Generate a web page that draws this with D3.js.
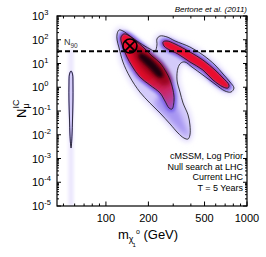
<!DOCTYPE html>
<html>
<head>
<meta charset="utf-8">
<script src="https://cdn.jsdelivr.net/npm/d3@7"></script>
<style>
  body { margin: 0; background: #fff; }
  svg { display: block; font-family: "Liberation Sans", Arial, Helvetica, sans-serif; }
</style>
</head>
<body>
<div id="figure"></div>
<script>
// axis ticks
const xTicks = [100, 200, 500, 1000];
const xMinor = [50, 60, 70, 80, 90, 300, 400, 600, 700, 800, 900];
const yExponents = [-5, -4, -3, -2, -1, 0, 1, 2, 3];

// IceCube 90% line and best fit point
const n90 = 33;
const bestFit = [148, 54.6];

// contours, [neutralino mass GeV, N_mu]
const outerContour = [
    [120, 175], [124, 257], [132, 234], [148, 144], [174, 73], [205, 41], [223, 33.6],
    [230, 60], [230, 108], [242, 144], [271, 131], [309, 88.6], [394, 49.5], [487, 22.8],
    [593, 8.65], [676, 3.61], [757, 1.66], [808, 0.93], [770, 0.63], [698, 0.695],
    [593, 1.37], [487, 3.28], [407, 7.13], [363, 11.6], [340, 10.5], [324, 6.47],
    [319, 2.02], [335, 0.63], [352, 0.217], [382, 0.068], [394, 0.0258], [394, 0.0098],
    [382, 0.0066], [357, 0.0073], [324, 0.0119], [285, 0.0284], [242, 0.082], [205, 0.217],
    [174, 0.63], [148, 2.7], [132, 11.6], [124, 45], [120, 97.6]
];
const innerMain = [
    [128, 131], [134, 175], [143, 158], [163, 88.6], [183, 49.5], [212, 20.7], [242, 10.5],
    [267, 4.39], [285, 2.02], [299, 0.766], [304, 0.29], [294, 0.121], [280, 0.134],
    [262, 0.264], [242, 0.573], [205, 1.24], [174, 2.7], [153, 7.85], [141, 18.8],
    [132, 49.5], [128, 88.6]
];
const innerBand = [
    [254, 80.4], [271, 88.6], [309, 66.2], [394, 30.5], [487, 14.0], [593, 5.33],
    [676, 2.45], [745, 1.24], [733, 0.93], [676, 1.03], [574, 2.02], [487, 5.33],
    [394, 11.6], [324, 25.1], [275, 40.8], [258, 54.6]
];
const darkCore = [
    [158, 54.6], [189, 37], [234, 14], [275, 4.39], [289, 1.66], [258, 1.13],
    [216, 2.45], [177, 7.13], [156, 22.8]
];
const blackCore = [
    [174, 27.7], [195.5, 20.7], [223, 10.5], [250, 4.39], [254, 2.7], [234, 2.7],
    [209, 5.33], [183, 11.6], [171, 18.8]
];
const tailShade = [
    [242, 0.472], [309, 0.179], [363, 0.0258], [382, 0.0089], [346, 0.0131],
    [275, 0.0507], [223, 0.197]
];
const lowContour = [
    [56.6, 4.83], [57.96, 3.61], [58.4, 1.24], [58.4, 0.29], [57.96, 0.0418], [57.5, 0.00976],
    [56.6, 0.00277], [55.6, 0.00976], [55.2, 0.0418], [54.7, 0.29], [54.7, 1.24], [55.2, 3.61]
];
const lowGlow = [[54.2, 40], [59, 40], [59, 1e-5], [54.2, 1e-5]];

const notes = ["cMSSM, Log Prior", "Null search at LHC", "Current LHC", "T = 5 Years"];

const W = 266, H = 257;
const x = d3.scaleLog().domain([45, 1000]).range([57, 247]);
const y = d3.scaleLog().domain([1e-5, 1e3]).range([206, 16]);

const svg = d3.select("#figure")
    .append("svg")
    .attr("width", W)
    .attr("height", H);

const defs = svg.append("defs");
[["b1", 0.8], ["b15", 1.3], ["b2", 1.8], ["b3", 2.8]].forEach(([id, s]) => {
    defs.append("filter").attr("id", id)
        .attr("x", "-50%").attr("y", "-50%").attr("width", "200%").attr("height", "200%")
        .append("feGaussianBlur").attr("stdDeviation", s);
});
defs.append("clipPath").attr("id", "plot")
    .append("rect")
    .attr("x", x.range()[0]).attr("y", y.range()[1])
    .attr("width", x.range()[1] - x.range()[0])
    .attr("height", y.range()[0] - y.range()[1]);

const grad = defs.append("linearGradient").attr("id", "redfade")
    .attr("gradientUnits", "userSpaceOnUse")
    .attr("x1", x(130)).attr("y1", y(150))
    .attr("x2", x(300)).attr("y2", y(0.12));
grad.append("stop").attr("offset", 0).attr("stop-color", "#f01030");
grad.append("stop").attr("offset", 0.55).attr("stop-color", "#dc0e2c");
grad.append("stop").attr("offset", 0.8).attr("stop-color", "#c8286c");
grad.append("stop").attr("offset", 1).attr("stop-color", "#a055c4");

const smooth = d3.curveCatmullRomClosed.alpha(0.5);
const line = d3.line()
    .x(d => x(d[0]))
    .y(d => y(d[1]))
    .curve(smooth);
const box = d3.line()
    .x(d => x(d[0]))
    .y(d => y(d[1]))
    .curve(d3.curveLinearClosed);

const plot = svg.append("g").attr("clip-path", "url(#plot)");

// soft posterior
plot.append("path").attr("d", box(lowGlow))
    .attr("fill", "#ebe7fd").attr("filter", "url(#b2)");

plot.append("path").attr("d", line(outerContour))
    .attr("fill", "#e4defc").attr("stroke", "#e4defc").attr("stroke-width", 6)
    .attr("filter", "url(#b3)");
plot.append("path").attr("d", line(outerContour))
    .attr("fill", "#d3cafa").attr("filter", "url(#b1)");
plot.append("path").attr("d", line(tailShade))
    .attr("fill", "#a796f2").attr("filter", "url(#b3)");

[innerMain, innerBand].forEach(c => {
    plot.append("path").attr("d", line(c))
        .attr("fill", "#6a56e6").attr("stroke", "#7b68ec").attr("stroke-width", 6)
        .attr("filter", "url(#b2)");
});
plot.append("path").attr("d", line(innerMain))
    .attr("fill", "url(#redfade)").attr("filter", "url(#b1)");
plot.append("path").attr("d", line(innerBand))
    .attr("fill", "#ea102e").attr("filter", "url(#b1)");
plot.append("path").attr("d", line(darkCore))
    .attr("fill", "#900016").attr("opacity", 0.85).attr("filter", "url(#b3)");
plot.append("path").attr("d", line(blackCore))
    .attr("fill", "#1a0008").attr("filter", "url(#b2)");

plot.append("path").attr("d", line(lowContour))
    .attr("fill", "#d4ccf9").attr("stroke", "#a394f0").attr("stroke-width", 1.2);

// contour lines
[outerContour, innerMain, innerBand, lowContour].forEach(c => {
    plot.append("path").attr("d", line(c))
        .attr("fill", "none").attr("stroke", "#111").attr("stroke-width", 0.8);
});

// N90 line
plot.append("line")
    .attr("x1", x.range()[0]).attr("x2", x.range()[1])
    .attr("y1", y(n90)).attr("y2", y(n90))
    .attr("stroke", "#000").attr("stroke-width", 2).attr("stroke-dasharray", "5,3");

const n90Label = svg.append("text")
    .attr("x", 64).attr("y", y(n90) - 6)
    .attr("font-size", 9).attr("fill", "#333");
n90Label.append("tspan").text("N");
n90Label.append("tspan").attr("dy", 3).attr("font-size", 6.5).text("90");

// best fit marker
const bx = x(bestFit[0]), by = y(bestFit[1]), r = 7;
const bf = svg.append("g").attr("stroke", "#000").attr("stroke-width", 1.6).attr("fill", "none");
bf.append("circle").attr("cx", bx).attr("cy", by).attr("r", r);
bf.append("line").attr("x1", bx - r * 0.7).attr("y1", by - r * 0.7).attr("x2", bx + r * 0.7).attr("y2", by + r * 0.7);
bf.append("line").attr("x1", bx - r * 0.7).attr("y1", by + r * 0.7).attr("x2", bx + r * 0.7).attr("y2", by - r * 0.7);

// frame and ticks
const [x0, x1] = x.range(), [y0, y1] = y.range();
svg.append("rect")
    .attr("x", x0).attr("y", y1).attr("width", x1 - x0).attr("height", y0 - y1)
    .attr("fill", "none").attr("stroke", "#000").attr("stroke-width", 1.2);

const ticks = svg.append("g").attr("stroke", "#000").attr("stroke-width", 1);
function xTick(v, len) {
    ticks.append("line").attr("x1", x(v)).attr("x2", x(v)).attr("y1", y0).attr("y2", y0 - len);
    ticks.append("line").attr("x1", x(v)).attr("x2", x(v)).attr("y1", y1).attr("y2", y1 + len);
}
function yTick(v, len) {
    ticks.append("line").attr("y1", y(v)).attr("y2", y(v)).attr("x1", x0).attr("x2", x0 + len);
    ticks.append("line").attr("y1", y(v)).attr("y2", y(v)).attr("x1", x1).attr("x2", x1 - len);
}
xTicks.forEach(v => xTick(v, 4.5));
xMinor.forEach(v => xTick(v, 2.5));
yExponents.forEach(e => {
    yTick(Math.pow(10, e), 4);
    if (e < 3) d3.range(2, 10).forEach(m => yTick(m * Math.pow(10, e), 2));
});

// tick labels
svg.selectAll(".xl")
    .data(xTicks)
    .join("text")
    .attr("x", d => x(d)).attr("y", 222)
    .attr("text-anchor", "middle").attr("font-size", 11)
    .text(d => d);

yExponents.forEach(e => {
    const t = svg.append("text")
        .attr("x", 32).attr("y", y(Math.pow(10, e)) + 4)
        .attr("font-size", 11);
    t.append("tspan").text("10");
    t.append("tspan").attr("dy", -5).attr("font-size", 7.5).text(e);
});

// axis titles
const xt = svg.append("text").attr("x", 118).attr("y", 239).attr("font-size", 13);
xt.append("tspan").text("m");
xt.append("tspan").attr("dy", 3).attr("font-size", 9).text("χ");
xt.append("tspan").attr("dy", 5).attr("dx", -1).attr("font-size", 6).text("1");
xt.append("tspan").attr("dy", -13).attr("dx", 0).attr("font-size", 7).text("o");
xt.append("tspan").attr("dy", 5).attr("font-size", 13).text(" (GeV)");

const yt = svg.append("text")
    .attr("transform", "translate(26,118) rotate(-90)")
    .attr("font-size", 13);
yt.append("tspan").text("N");
yt.append("tspan").attr("dy", 3).attr("font-size", 9).text("μ");
yt.append("tspan").attr("dy", -10).attr("dx", -5).attr("font-size", 9).text("IC");

// annotations
svg.append("text")
    .attr("x", 247).attr("y", 12)
    .attr("text-anchor", "end").attr("font-size", 8).attr("font-style", "italic")
    .text("Bertone et al. (2011)");

svg.selectAll(".note")
    .data(notes)
    .join("text")
    .attr("x", 243).attr("y", (d, i) => 159 + i * 10.7)
    .attr("text-anchor", "end").attr("font-size", 9)
    .text(d => d);
</script>
</body>
</html>
